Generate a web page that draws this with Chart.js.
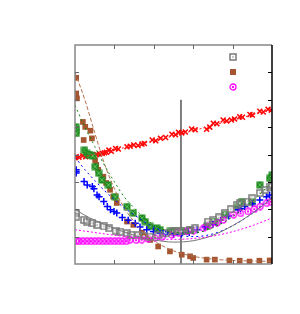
<!DOCTYPE html>
<html>
<head>
<meta charset="utf-8">
<script src="https://cdn.jsdelivr.net/npm/chart.js@4"></script>
<style>
  html, body { margin: 0; padding: 0; background: #fff; }
  canvas { display: block; }
</style>
</head>
<body>
<canvas id="chart" width="300" height="314"></canvas>
<script>
// measured points
const redX = [0.0,0.03,0.1,0.2,0.27,0.33,0.39,0.45,0.55,0.62,0.69,0.75,0.8,0.86,0.92,1.03,1.1,1.32,1.4,1.49,1.6,1.7,1.76,1.96,2.05,2.17,2.3,2.46,2.55,2.63,2.71,2.8,2.96,3.05,3.34,3.42,3.51,3.6,3.76,3.85,3.97,4.05,4.18,4.25,4.44,4.5,4.69,4.78,4.9,4.98];
const redY = [3.88,3.92,3.9,3.95,3.92,3.96,3.98,3.96,4.0,4.02,4.04,4.06,4.08,4.16,4.12,4.22,4.2,4.28,4.3,4.35,4.33,4.38,4.4,4.53,4.5,4.59,4.62,4.74,4.72,4.81,4.79,4.82,4.93,4.9,4.92,5.0,5.14,5.12,5.26,5.22,5.26,5.3,5.38,5.36,5.46,5.44,5.58,5.55,5.65,5.62];

const brownX = [0.03,0.03,0.05,0.2,0.22,0.26,0.39,0.43,0.51,0.54,0.59,0.72,0.79,0.89,0.97,1.06,1.32,1.48,1.7,1.78,1.91,2.11,2.41,2.71,2.92,3.0,3.34,3.55,3.92,4.18,4.43,4.68,4.94];
const brownY = [6.80,6.23,6.05,5.19,4.53,5.01,4.87,4.59,3.80,3.62,3.44,3.19,2.96,2.71,2.46,2.23,1.55,1.43,1.14,1.01,0.88,0.64,0.46,0.34,0.28,0.22,0.16,0.16,0.13,0.12,0.09,0.12,0.13];

const greenX = [0.02,0.03,0.03,0.24,0.3,0.35,0.39,0.45,0.51,0.6,0.68,0.85,1.02,1.32,1.48,1.7,1.78,1.91,2.08,2.16,2.41,2.54,2.79,2.92,3.34,3.55,3.8,4.14,4.23,4.48,4.69,4.94,5.0];
const greenY = [5.01,4.89,4.77,4.16,4.04,4.0,3.98,3.95,3.56,3.32,3.07,2.89,2.46,2.10,1.86,1.68,1.55,1.37,1.31,1.25,1.19,1.19,1.19,1.25,1.37,1.55,1.80,2.10,2.28,2.28,2.89,3.13,3.25];

const blueX = [0.03,0.03,0.03,0.23,0.31,0.44,0.48,0.56,0.61,0.73,0.82,0.9,0.99,1.06,1.2,1.35,1.53,1.65,1.82,1.99,2.16,2.3,2.5,2.7,2.9,3.1,3.3,3.5,3.7,3.9,4.14,4.2,4.31,4.5,4.69,4.86,4.94];
const blueY = [3.44,3.38,3.32,3.01,2.89,2.83,2.75,2.52,2.46,2.28,2.10,1.98,1.92,1.86,1.7,1.6,1.49,1.35,1.25,1.19,1.13,1.1,1.08,1.1,1.15,1.25,1.35,1.45,1.6,1.75,1.98,2.02,2.10,2.2,2.34,2.46,2.52];

const grayX = [0.03,0.03,0.23,0.3,0.44,0.56,0.73,0.86,1.03,1.15,1.32,1.43,1.6,1.75,1.9,2.1,2.3,2.49,2.6,2.7,2.92,3.05,3.38,3.51,3.65,3.8,3.95,4.1,4.18,4.39,4.5,4.69,4.82,4.94,5.0];
const grayY = [1.86,1.73,1.61,1.55,1.49,1.43,1.37,1.31,1.22,1.18,1.13,1.07,1.05,1.02,1.0,1.05,1.12,1.19,1.2,1.19,1.25,1.3,1.55,1.61,1.7,1.86,2.0,2.16,2.22,2.28,2.4,2.59,2.71,2.83,2.9];

const magX = [0.03,0.1,0.2,0.3,0.4,0.5,0.6,0.7,0.8,0.9,1.0,1.1,1.2,1.3,1.39,1.55,1.69,1.85,2.03,2.2,2.45,2.62,2.84,3.0,3.26,3.43,3.6,3.76,4.02,4.2,4.39,4.55,4.69,4.86,4.97];
const magY = [0.85,0.83,0.83,0.83,0.83,0.83,0.83,0.83,0.83,0.83,0.83,0.83,0.83,0.83,0.89,0.87,0.89,0.92,0.95,0.98,1.07,1.13,1.19,1.22,1.31,1.43,1.5,1.61,1.80,1.85,1.92,2.0,2.10,2.22,2.28];

// fitted curves
const fitX = [0,0.25,0.5,0.75,1,1.25,1.5,1.75,2,2.5,3,3.5,4,4.5,5];
const redFit = [3.85,3.93,4.01,4.09,4.17,4.25,4.33,4.41,4.5,4.68,4.87,5.06,5.25,5.45,5.65];
const brownFit = [7.0,6.0,4.8,3.65,2.75,2.05,1.55,1.15,0.85,0.48,0.28,0.18,0.13,0.11,0.1];
const greenFit = [5.8,5.0,4.3,3.6,3.0,2.45,2.05,1.7,1.42,1.16,1.13,1.33,1.73,2.3,3.0];
const blueFit = [3.9,3.45,3.05,2.68,2.35,2.05,1.8,1.55,1.35,1.1,1.0,1.1,1.4,1.85,2.45];
const grayFit = [2.0,1.78,1.6,1.44,1.3,1.17,1.05,0.95,0.88,0.8,0.85,1.05,1.4,1.85,2.4];
const magFit = [1.25,1.2,1.15,1.1,1.05,1.01,0.97,0.94,0.92,0.9,0.93,1.02,1.18,1.4,1.68];

const vlineX = [2.69, 2.69];
const vlineY = [0, 6];

const xTicks = [1, 2, 3, 4];
const yTicks = [1, 2, 3, 4, 5, 6, 7];

const pts = (xs, ys) => xs.map((x, i) => ({x: x, y: ys[i]}));

// custom point glyphs
const makeGlyph = (draw, size = 8) => {
  const c = document.createElement('canvas');
  c.width = size; c.height = size;
  draw(c.getContext('2d'), size);
  return c;
};
const grayBox = makeGlyph((g, s) => {
  g.strokeStyle = '#7a7a7a'; g.lineWidth = 1.5;
  g.strokeRect(1, 1, s - 2, s - 2);
  g.fillStyle = '#c8c8c8'; g.fillRect(3, 3, s - 6, s - 6);
});
const greenBox = makeGlyph((g, s) => {
  g.fillStyle = '#1f8a1f'; g.fillRect(0.5, 0.5, s - 1, s - 1);
  g.strokeStyle = '#5fbf5f'; g.lineWidth = 1;
  g.beginPath(); g.moveTo(1.5, 1.5); g.lineTo(s - 1.5, s - 1.5); g.moveTo(s - 1.5, 1.5); g.lineTo(1.5, s - 1.5); g.stroke();
});
const magRing = makeGlyph((g, s) => {
  g.strokeStyle = '#ff00ff'; g.lineWidth = 1.3;
  g.beginPath(); g.arc(s / 2, s / 2, s / 2 - 1, 0, Math.PI * 2); g.stroke();
  g.fillStyle = '#ff00ff'; g.fillRect(s / 2 - 1, s / 2 - 1, 2, 2);
});

const scatter = (data, opts) => Object.assign({
  type: 'scatter', data: data, showLine: false, borderWidth: 1.5
}, opts);
const fit = (ys, color, dash, width = 1) => ({
  type: 'line', data: pts(fitX, ys), borderColor: color, borderWidth: width,
  borderDash: dash, pointRadius: 0, tension: 0.4, cubicInterpolationMode: 'monotone', fill: false
});

const framePlugin = {
  id: 'frame',
  afterDatasetsDraw(chart) {
    const {ctx, chartArea: a, scales} = chart;
    ctx.save();
    ctx.lineWidth = 1.5;
    ctx.strokeStyle = '#888';
    ctx.beginPath();
    ctx.moveTo(a.right, a.top); ctx.lineTo(a.left, a.top);
    ctx.lineTo(a.left, a.bottom); ctx.lineTo(a.right, a.bottom);
    ctx.stroke();
    ctx.strokeStyle = '#000';
    ctx.beginPath(); ctx.moveTo(a.right, a.top); ctx.lineTo(a.right, a.bottom); ctx.stroke();
    ctx.lineWidth = 1;
    ctx.strokeStyle = '#666';
    xTicks.forEach(v => {
      const px = Math.round(scales.x.getPixelForValue(v)) + 0.5;
      ctx.beginPath();
      ctx.moveTo(px, a.bottom); ctx.lineTo(px, a.bottom - 4);
      ctx.moveTo(px, a.top); ctx.lineTo(px, a.top + 4);
      ctx.stroke();
    });
    yTicks.forEach(v => {
      const py = Math.round(scales.y.getPixelForValue(v)) + 0.5;
      ctx.strokeStyle = '#666';
      ctx.beginPath(); ctx.moveTo(a.left, py); ctx.lineTo(a.left + 4, py); ctx.stroke();
      ctx.strokeStyle = '#000';
      ctx.beginPath(); ctx.moveTo(a.right, py); ctx.lineTo(a.right - 4, py); ctx.stroke();
    });
    // key: markers only, no labels
    const kx = a.right - 39;
    [grayBox, null, magRing].forEach((img, i) => {
      const ky = a.top + 12 + i * 15;
      if (img) ctx.drawImage(img, kx - img.width / 2, ky - img.height / 2);
      else { ctx.fillStyle = '#a5552f'; ctx.fillRect(kx - 3, ky - 3, 6, 6); }
    });
    ctx.restore();
  }
};

new Chart(document.getElementById('chart').getContext('2d'), {
  data: {
    datasets: [
      fit(magFit, '#ff00ff', [2, 2]),
      fit(grayFit, '#777', []),
      fit(blueFit, '#0000ff', [2, 3]),
      fit(greenFit, '#108a10', [2, 3]),
      fit(brownFit, '#b0704f', [4, 2]),
      fit(redFit, '#ff2020', [2, 2]),
      scatter(pts(grayX, grayY), {pointStyle: grayBox, pointRadius: 4}),
      scatter(pts(magX, magY), {pointStyle: magRing, pointRadius: 4}),
      scatter(pts(blueX, blueY), {pointStyle: 'cross', pointRadius: 3.5, borderColor: '#0000ff', backgroundColor: '#0000ff'}),
      scatter(pts(greenX, greenY), {pointStyle: greenBox, pointRadius: 4}),
      scatter(pts(brownX, brownY), {pointStyle: 'rect', pointRadius: 4, borderWidth: 0, backgroundColor: '#a5552f', borderColor: '#a5552f'}),
      scatter(pts(redX, redY), {pointStyle: 'crossRot', pointRadius: 3.5, borderColor: '#ff0000', backgroundColor: '#ff0000'}),
      {
        type: 'line', data: pts(vlineX, vlineY), borderColor: '#000', borderWidth: 1,
        pointRadius: 0, fill: false
      }
    ]
  },
  options: {
    responsive: false,
    animation: false,
    layout: { padding: { left: 75, right: 28, top: 45, bottom: 50 } },
    plugins: { legend: { display: false }, tooltip: { enabled: false } },
    scales: {
      x: { type: 'linear', min: 0, max: 5, display: false },
      y: { type: 'linear', min: 0, max: 8, display: false }
    }
  },
  plugins: [framePlugin]
});
</script>
</body>
</html>
